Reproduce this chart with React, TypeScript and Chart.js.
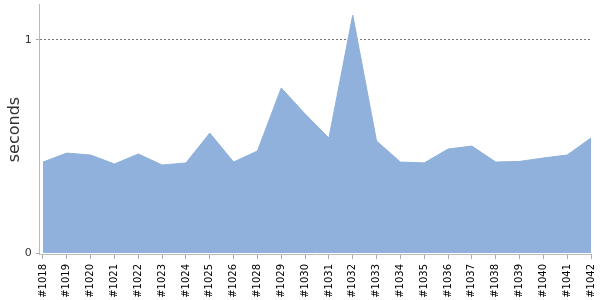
import React, { useEffect, useRef } from "react";
import { Chart, registerables } from "chart.js";

Chart.register(...registerables);

const builds = ["#1018","#1019","#1020","#1021","#1022","#1023","#1024","#1025","#1026","#1028","#1029","#1030","#1031","#1032","#1033","#1034","#1035","#1036","#1037","#1038","#1039","#1040","#1041","#1042"];
const seconds = [0.427,0.469,0.46,0.418,0.465,0.413,0.423,0.563,0.427,0.479,0.775,0.653,0.54,1.117,0.526,0.427,0.423,0.488,0.502,0.427,0.43,0.446,0.46,0.54];
const yTicks = [0, 1];

export default function App() {
  const ref = useRef<HTMLCanvasElement>(null);
  useEffect(() => {
    const chart = new Chart(ref.current!, {
      type: "line",
      data: {
        datasets: [{
          data: seconds.map((v, i) => ({ x: i, y: v })),
          fill: { value: 0 },
          backgroundColor: "rgb(143,177,219)",
          borderColor: "rgb(143,177,219)",
          borderWidth: 1,
          pointRadius: 0,
          tension: 0,
        }],
      },
      options: {
        animation: false,
        responsive: false,
        maintainAspectRatio: false,
        layout: { padding: { top: 0, right: 0, bottom: -2.8, left: 0 } },
        plugins: { legend: { display: false }, tooltip: { enabled: false } },
        scales: {
          x: {
            type: "linear",
            min: -0.134,
            max: builds.length - 1,
            afterBuildTicks: (s: any) => { s.ticks = builds.map((_, i) => ({ value: i })); },
            border: { display: true, color: "#bbb" },
            grid: { drawOnChartArea: false, tickLength: 4, color: "#aaa" },
            ticks: {
              maxRotation: 90, minRotation: 90, autoSkip: false,
              callback: (v: any) => builds[Math.round(v)] ?? "",
              color: "#000", font: { family: "DejaVu Sans", size: 10, lineHeight: 0.4 }, padding: 5,
            },
          },
          y: {
            min: -0.00925,
            max: 1.1687,
            z: 1,
            afterBuildTicks: (s: any) => { s.ticks = yTicks.map(v => ({ value: v })); },
            border: { display: true, color: "#bbb", dash: [2, 2] },
            grid: {
              color: (c: any) => (c.tick && c.tick.value === 1 ? "#777" : "transparent"),
              tickColor: "#aaa",
              tickLength: 4,
            },
            ticks: { color: "#333", font: { family: "DejaVu Sans", size: 11, lineHeight: 0.01 }, padding: 4 },
            title: {
              display: true, text: "seconds", color: "#333",
              font: { family: "DejaVu Sans", size: 16, lineHeight: 0.8 },
              padding: { top: 8, bottom: 0 },
            },
          },
        },
      },
    });
    return () => chart.destroy();
  }, []);
  return (
    <div style={{ position: "fixed", left: 0, top: 0, width: 600, height: 300, background: "#fff" }}>
      <canvas ref={ref} width={600} height={300} />
    </div>
  );
}
